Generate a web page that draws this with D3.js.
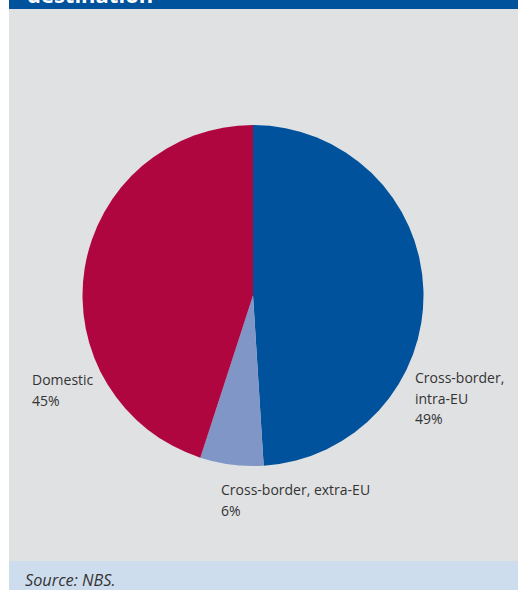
<!DOCTYPE html>
<html>
<head>
<meta charset="utf-8">
<script src="https://cdn.jsdelivr.net/npm/d3@7"></script>
<style>
  html, body { margin: 0; padding: 0; background: #ffffff; }
  svg { display: block; }
</style>
</head>
<body>
<svg id="chart" width="518" height="590"></svg>
<script>
// Payment shares by destination
const categories = ["Cross-border, intra-EU", "Cross-border, extra-EU", "Domestic"];
const labelLines = [["Cross-border,", "intra-EU"], ["Cross-border, extra-EU"], ["Domestic"]];
const shares = [49, 6, 45];
const colors = ["#00529c", "#7f96c6", "#b0063f"];

const svg = d3.select("#chart");
const W = 518, H = 590;
const panelX = 9;

// panel background
svg.append("rect").attr("x", panelX).attr("y", 0).attr("width", W - panelX).attr("height", H)
  .attr("fill", "#e0e1e3");

// title bar (only its lower edge is in view)
svg.append("clipPath").attr("id", "titleClip")
  .append("rect").attr("x", panelX).attr("y", 0).attr("width", W - panelX).attr("height", 9);
svg.append("rect").attr("x", panelX).attr("y", 0).attr("width", W - panelX).attr("height", 9)
  .attr("fill", "#00529c");
svg.append("text").attr("clip-path", "url(#titleClip)")
  .attr("x", 27).attr("y", 3)
  .attr("font-family", "'Open Sans', sans-serif").attr("font-weight", 700)
  .attr("font-size", 22).attr("fill", "#ffffff")
  .text("destination");

// source band
svg.append("rect").attr("x", panelX).attr("y", 561).attr("width", W - panelX).attr("height", H - 561)
  .attr("fill", "#cedded");
svg.append("text").attr("x", 25).attr("y", 586)
  .attr("font-family", "'Open Sans', sans-serif").attr("font-style", "italic")
  .attr("font-size", 16.3).attr("fill", "#333333")
  .text("Source: NBS.");

// pie
const cx = 253, cy = 295.5, r = 170.5;
const pie = d3.pie().sort(null).value(d => d.value);
const arc = d3.arc().innerRadius(0).outerRadius(r);
const data = categories.map((c, i) => ({ name: c, value: shares[i], lines: labelLines[i], color: colors[i] }));
const arcs = pie(data);

const g = svg.append("g").attr("transform", `translate(${cx},${cy})`);
g.selectAll("path").data(arcs).join("path")
  .attr("d", arc)
  .attr("fill", d => d.data.color);

// labels placed outside the pie
const labelPos = {
  "Cross-border, intra-EU": { x: 415, y: 383 },
  "Cross-border, extra-EU": { x: 221, y: 495 },
  "Domestic": { x: 32, y: 385 }
};
const lineH = 20.5;
arcs.forEach(a => {
  const p = labelPos[a.data.name];
  const t = svg.append("text")
    .attr("font-family", "'Open Sans', sans-serif")
    .attr("font-size", 14).attr("fill", "#333333");
  const lines = a.data.lines.concat([a.data.value + "%"]);
  lines.forEach((ln, i) => {
    t.append("tspan").attr("x", p.x).attr("y", p.y + i * lineH).text(ln);
  });
});
</script>
</body>
</html>
